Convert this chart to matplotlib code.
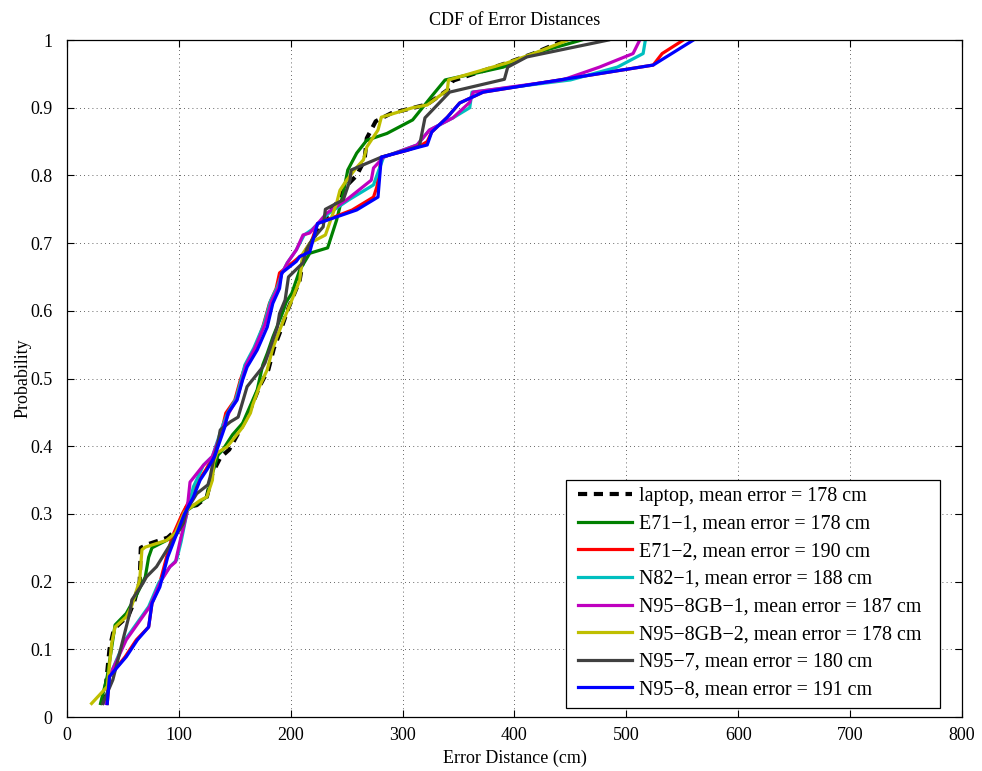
import matplotlib
matplotlib.use("Agg")
import matplotlib.pyplot as plt
from matplotlib.patches import Rectangle

plt.rcParams['font.family'] = ['Liberation Serif', 'DejaVu Serif']
plt.rcParams['mathtext.fontset'] = 'stix'

labels = [
    "laptop, mean error = 178 cm",
    "E71\u22121, mean error = 178 cm",
    "E71\u22122, mean error = 190 cm",
    "N82\u22121, mean error = 188 cm",
    "N95\u22128GB\u22121, mean error = 187 cm",
    "N95\u22128GB\u22122, mean error = 178 cm",
    "N95\u22127, mean error = 180 cm",
    "N95\u22128, mean error = 191 cm",
]

laptop_x = [32, 35, 38, 42, 55, 60, 65, 66, 72, 90, 100, 107, 116, 125, 130, 137, 145, 150, 160, 166, 172, 180, 185, 191, 197, 208, 212, 218, 226, 241, 250, 259, 266, 268, 276, 290, 310, 322, 340, 345, 393, 417, 445]
laptop_y = [0.02, 0.05, 0.10, 0.13, 0.15, 0.17, 0.20, 0.25, 0.255, 0.265, 0.28, 0.31, 0.313, 0.325, 0.36, 0.383, 0.395, 0.41, 0.44, 0.463, 0.488, 0.513, 0.545, 0.571, 0.60, 0.645, 0.685, 0.70, 0.725, 0.759, 0.785, 0.80, 0.823, 0.855, 0.88, 0.892, 0.90, 0.905, 0.926, 0.94, 0.966, 0.98, 1.0]

e711_x = [30, 36, 43, 53, 63, 70, 73, 76, 95, 103, 107, 116, 125, 130, 135, 139, 148, 157, 161, 170, 175, 179, 184, 192, 196, 201, 208, 217, 233, 241, 247, 251, 259, 268, 286, 309, 327, 338, 390, 417, 460]
e711_y = [0.02, 0.06, 0.136, 0.153, 0.183, 0.207, 0.236, 0.25, 0.266, 0.281, 0.305, 0.315, 0.325, 0.36, 0.387, 0.394, 0.417, 0.434, 0.449, 0.483, 0.52, 0.537, 0.561, 0.594, 0.613, 0.626, 0.66, 0.685, 0.693, 0.734, 0.774, 0.808, 0.833, 0.852, 0.862, 0.882, 0.919, 0.941, 0.96, 0.98, 1.0]

e712_x = [36, 38, 52, 62, 73, 76, 82, 89, 94, 103, 111, 118, 124, 131, 139, 142, 150, 155, 159, 166, 175, 181, 187, 190, 203, 208, 216, 224, 255, 274, 277, 281, 304, 317, 322, 326, 340, 351, 372, 524, 532, 551]
e712_y = [0.02, 0.06, 0.089, 0.114, 0.133, 0.168, 0.192, 0.236, 0.266, 0.30, 0.325, 0.35, 0.365, 0.385, 0.428, 0.449, 0.468, 0.498, 0.517, 0.535, 0.576, 0.611, 0.633, 0.656, 0.673, 0.68, 0.69, 0.729, 0.749, 0.768, 0.783, 0.827, 0.837, 0.845, 0.85, 0.864, 0.886, 0.907, 0.923, 0.963, 0.98, 1.0]

n821_x = [35, 38, 52, 73, 82, 92, 98, 102, 107, 113, 122, 130, 139, 144, 151, 156, 159, 167, 176, 182, 188, 192, 197, 205, 212, 219, 234, 252, 274, 277, 283, 313, 324, 345, 360, 362, 450, 492, 515, 517]
n821_y = [0.02, 0.06, 0.114, 0.163, 0.198, 0.222, 0.232, 0.259, 0.30, 0.34, 0.372, 0.385, 0.43, 0.45, 0.47, 0.50, 0.52, 0.545, 0.58, 0.615, 0.635, 0.655, 0.671, 0.69, 0.712, 0.72, 0.744, 0.764, 0.786, 0.80, 0.827, 0.845, 0.867, 0.885, 0.90, 0.923, 0.941, 0.96, 0.98, 1.0]

n958gb1_x = [35, 38, 53, 74, 83, 92, 97, 101, 107, 110, 122, 130, 140, 145, 152, 157, 160, 168, 177, 183, 189, 192, 197, 205, 211, 217, 232, 250, 272, 274, 283, 313, 324, 345, 360, 363, 443, 476, 506, 512]
n958gb1_y = [0.02, 0.06, 0.114, 0.163, 0.198, 0.222, 0.229, 0.259, 0.30, 0.347, 0.372, 0.385, 0.43, 0.45, 0.47, 0.50, 0.52, 0.545, 0.58, 0.615, 0.635, 0.655, 0.671, 0.69, 0.712, 0.715, 0.744, 0.764, 0.793, 0.811, 0.827, 0.845, 0.867, 0.885, 0.908, 0.923, 0.941, 0.96, 0.98, 1.0]

n958gb2_x = [22, 36, 40, 43, 53, 58, 65, 67, 70, 89, 97, 105, 119, 125, 130, 131, 134, 143, 148, 157, 164, 166, 172, 179, 184, 190, 196, 202, 208, 211, 217, 231, 241, 244, 250, 259, 265, 268, 278, 281, 309, 322, 340, 341, 393, 417, 448]
n958gb2_y = [0.02, 0.045, 0.109, 0.133, 0.148, 0.165, 0.202, 0.247, 0.251, 0.261, 0.272, 0.303, 0.32, 0.325, 0.35, 0.375, 0.39, 0.399, 0.409, 0.428, 0.449, 0.461, 0.488, 0.513, 0.545, 0.571, 0.596, 0.62, 0.645, 0.685, 0.70, 0.712, 0.759, 0.778, 0.793, 0.812, 0.823, 0.842, 0.867, 0.886, 0.90, 0.904, 0.926, 0.941, 0.966, 0.98, 1.0]

n957_x = [32, 41, 47, 56, 58, 68, 71, 80, 92, 104, 107, 116, 126, 128, 131, 135, 137, 146, 153, 161, 175, 177, 183, 188, 190, 195, 198, 211, 214, 219, 229, 231, 247, 253, 254, 281, 315, 320, 342, 391, 394, 411, 484]
n957_y = [0.02, 0.055, 0.094, 0.153, 0.173, 0.198, 0.207, 0.222, 0.254, 0.286, 0.306, 0.33, 0.343, 0.355, 0.38, 0.405, 0.424, 0.436, 0.443, 0.488, 0.517, 0.523, 0.552, 0.576, 0.596, 0.616, 0.65, 0.671, 0.69, 0.705, 0.724, 0.75, 0.764, 0.793, 0.808, 0.827, 0.843, 0.885, 0.923, 0.942, 0.96, 0.975, 1.0]

n958_x = [36, 38, 53, 63, 73, 76, 83, 90, 97, 105, 113, 119, 125, 132, 141, 144, 152, 157, 161, 170, 179, 184, 190, 192, 205, 208, 217, 224, 259, 278, 281, 304, 315, 322, 326, 340, 351, 372, 524, 560]
n958_y = [0.02, 0.06, 0.089, 0.114, 0.133, 0.168, 0.192, 0.236, 0.266, 0.30, 0.325, 0.35, 0.365, 0.385, 0.428, 0.449, 0.468, 0.498, 0.517, 0.542, 0.576, 0.611, 0.633, 0.656, 0.673, 0.68, 0.687, 0.729, 0.749, 0.768, 0.827, 0.837, 0.842, 0.845, 0.864, 0.886, 0.907, 0.923, 0.963, 1.0]

series_x = [laptop_x, e711_x, e712_x, n821_x, n958gb1_x, n958gb2_x, n957_x, n958_x]
series_y = [laptop_y, e711_y, e712_y, n821_y, n958gb1_y, n958gb2_y, n957_y, n958_y]
colors = ['black', '#008000', '#ff0000', '#00bfbf', '#bf00bf', '#bfbf00', '#404040', '#0000ff']
styles = ['--', '-', '-', '-', '-', '-', '-', '-']

xticks = [0, 100, 200, 300, 400, 500, 600, 700, 800]
yticks = [0, 0.1, 0.2, 0.3, 0.4, 0.5, 0.6, 0.7, 0.8, 0.9, 1.0]
ytick_labels = ["0", "0.1", "0.2", "0.3", "0.4", "0.5", "0.6", "0.7", "0.8", "0.9", "1"]

fig = plt.figure(figsize=(9.82, 7.71), dpi=100)
ax = fig.add_axes([0.0682, 0.0700, 0.9114, 0.8781])

for xs, ys, c, ls, lab in zip(series_x, series_y, colors, styles, labels):
    if ls == '--':
        ax.plot(xs, ys, ls, color=c, lw=3.0, label=lab, dashes=(2.2, 1.6))
    else:
        ax.plot(xs, ys, ls, color=c, lw=2.3, label=lab)

ax.set_xlim(0, 800)
ax.set_ylim(0, 1)
ax.set_xticks(xticks)
ax.set_yticks(yticks)
ax.set_yticklabels(ytick_labels)
ax.tick_params(direction='in', top=True, right=True, length=5, labelsize=13, width=0.8)
ax.tick_params(axis='x', pad=7)
ax.tick_params(axis='y', pad=10.5)
ax.grid(True, linestyle=(0, (1, 4)), color='black', linewidth=0.6, alpha=0.8)
for s in ax.spines.values():
    s.set_linewidth(0.9)

ax.set_title("CDF of Error Distances", fontsize=13, pad=11)
ax.set_xlabel("Error Distance (cm)", fontsize=13, labelpad=4)
ax.set_ylabel("Probability", fontsize=13, labelpad=-1)

# legend box (MATLAB style)
box = Rectangle((0.5575, 0.0133), 0.4179, 0.3367, transform=ax.transAxes,
                facecolor='white', edgecolor='black', linewidth=0.9, zorder=10)
ax.add_patch(box)
leg = ax.legend(loc='upper left', bbox_to_anchor=(0.571, 0.3395), borderaxespad=0,
                fontsize=14.4, frameon=False, handlelength=2.7, handletextpad=0.35,
                labelspacing=0.43, borderpad=0.0)
leg.set_zorder(11)

fig.savefig("out.png", dpi=100)
